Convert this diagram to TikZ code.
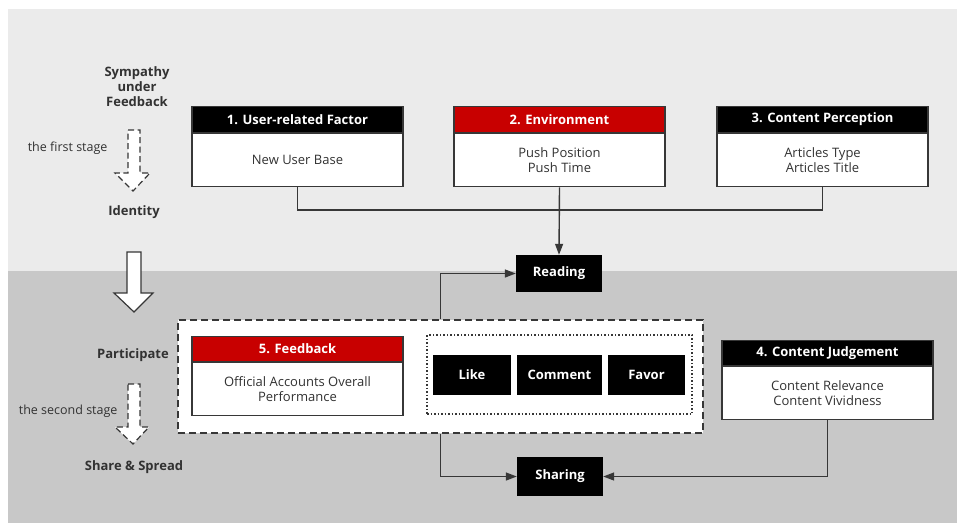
\documentclass[tikz,border=0pt]{standalone}
\usepackage{fontspec}
\setmainfont{Open Sans}
\usetikzlibrary{arrows.meta,positioning}
\definecolor{fbred}{RGB}{200,0,0}
\definecolor{bglight}{RGB}{235,235,235}
\definecolor{bgdark}{RGB}{200,200,200}
\definecolor{lineg}{RGB}{55,55,55}
\definecolor{txtg}{RGB}{50,50,50}
\begin{document}
\begin{tikzpicture}[
  x=1pt,y=-1pt,
  head/.style={draw=lineg,fill=black,text=white,line width=1.2pt,
    font=\fontsize{13}{15}\selectfont\bfseries,minimum width=211pt,
    minimum height=26pt,inner sep=0pt,anchor=north},
  body/.style={draw=lineg,fill=white,text=txtg,line width=1.2pt,
    font=\fontsize{13}{15}\selectfont,minimum width=211pt,
    minimum height=53pt,inner sep=0pt,align=center,anchor=north},
  act/.style={fill=black,text=white,font=\fontsize{13}{15}\selectfont\bfseries,
    minimum width=82pt,minimum height=40pt,inner sep=0pt},
  stage/.style={font=\fontsize{13}{15}\selectfont\bfseries,text=txtg,align=center},
  side/.style={font=\fontsize{12.5}{14}\selectfont,text=txtg},
  link/.style={draw=lineg,line width=1.4pt},
  arr/.style={link,-{Triangle[length=11pt,width=8pt]}},
  hollow/.style={draw=lineg,fill=white,line width=1.2pt,line join=miter},
]
  % Background
  \path[use as bounding box] (0,0) rectangle (957,523);
  \fill[bglight] (8,9) rectangle (957,271);
  \fill[bgdark] (8,271) rectangle (957,523);
  % Stages
  \node[stage] (symp) at (137,87) {Sympathy\\under\\Feedback};
  \node[stage] (ident) at (134,212) {Identity};
  \node[stage] (part) at (133,355) {Participate};
  \node[stage] (share) at (134,467) {Share \& Spread};
  \node[side,anchor=east] (first) at (111,148) {the first stage};
  \node[side,anchor=east] (second) at (121,411) {the second stage};
  % Stage arrows
  \draw[hollow,dashed,dash pattern=on 6pt off 3.5pt] (128,130) -- (140,130) -- (140,173)
    -- (150,173) -- (133,191) -- (115,173) -- (128,173) -- cycle;
  \draw[hollow] (127,252) -- (141,252) -- (141,293) -- (153,293) -- (134,312)
    -- (114,293) -- (127,293) -- cycle;
  \draw[hollow,dashed,dash pattern=on 6pt off 3.5pt] (128,384) -- (140,384) -- (140,427)
    -- (149,427) -- (133,444) -- (115,427) -- (128,427) -- cycle;
  % Factors
  \node[head] (h1) at (297.5,106) {1. User-related Factor};
  \node[body] (b1) at (h1.south) {New User Base};
  \node[head,fill=fbred] (h2) at (559.5,106) {2. Environment};
  \node[body] (b2) at (h2.south) {Push Position\\Push Time};
  \node[head] (h3) at (822.5,106) {3. Content Perception};
  \node[body] (b3) at (h3.south) {Articles Type\\Articles Title};
  % Reading / Sharing
  \node[act,minimum width=86pt,minimum height=37pt] (read) at (559,273.5) {Reading};
  \node[act,minimum width=86pt,minimum height=39pt] (shar) at (560,476.5) {Sharing};
  % Participation block
  \node[draw=lineg,fill=white,dashed,dash pattern=on 7pt off 4pt,line width=1.5pt,
    minimum width=525pt,minimum height=113pt] (block) at (440.5,376.5) {};
  \node[draw=lineg,dotted,line width=1.5pt,minimum width=265pt,minimum height=79pt]
    (acts) at (559.5,374.5) {};
  \node[act,minimum width=78pt] (like) at (472,375) {Like};
  \node[act,minimum width=85pt] (comm) at (559.5,375) {Comment};
  \node[act,minimum width=77pt] (fav) at (646.5,375) {Favor};
  \node[head,fill=fbred,minimum height=25pt] (h5) at (297.5,336) {5. Feedback};
  \node[body] (b5) at (h5.south) {Official Accounts Overall\\Performance};
  \node[head,minimum height=25pt] (h4) at (827.5,340) {4. Content Judgement};
  \node[body] (b4) at (h4.south) {Content Relevance\\Content Vividness};
  % Connectors
  \coordinate (join) at (559.5,210);
  \draw[link] (b1.south) |- (join) -| (b3.south);
  \draw[arr] (b2.south) -- (read.north);
  \draw[arr] (block.north) |- (read.west);
  \draw[arr] (block.south) |- (shar.west);
  \draw[arr] (b4.south) |- (shar.east);
\end{tikzpicture}
\end{document}
